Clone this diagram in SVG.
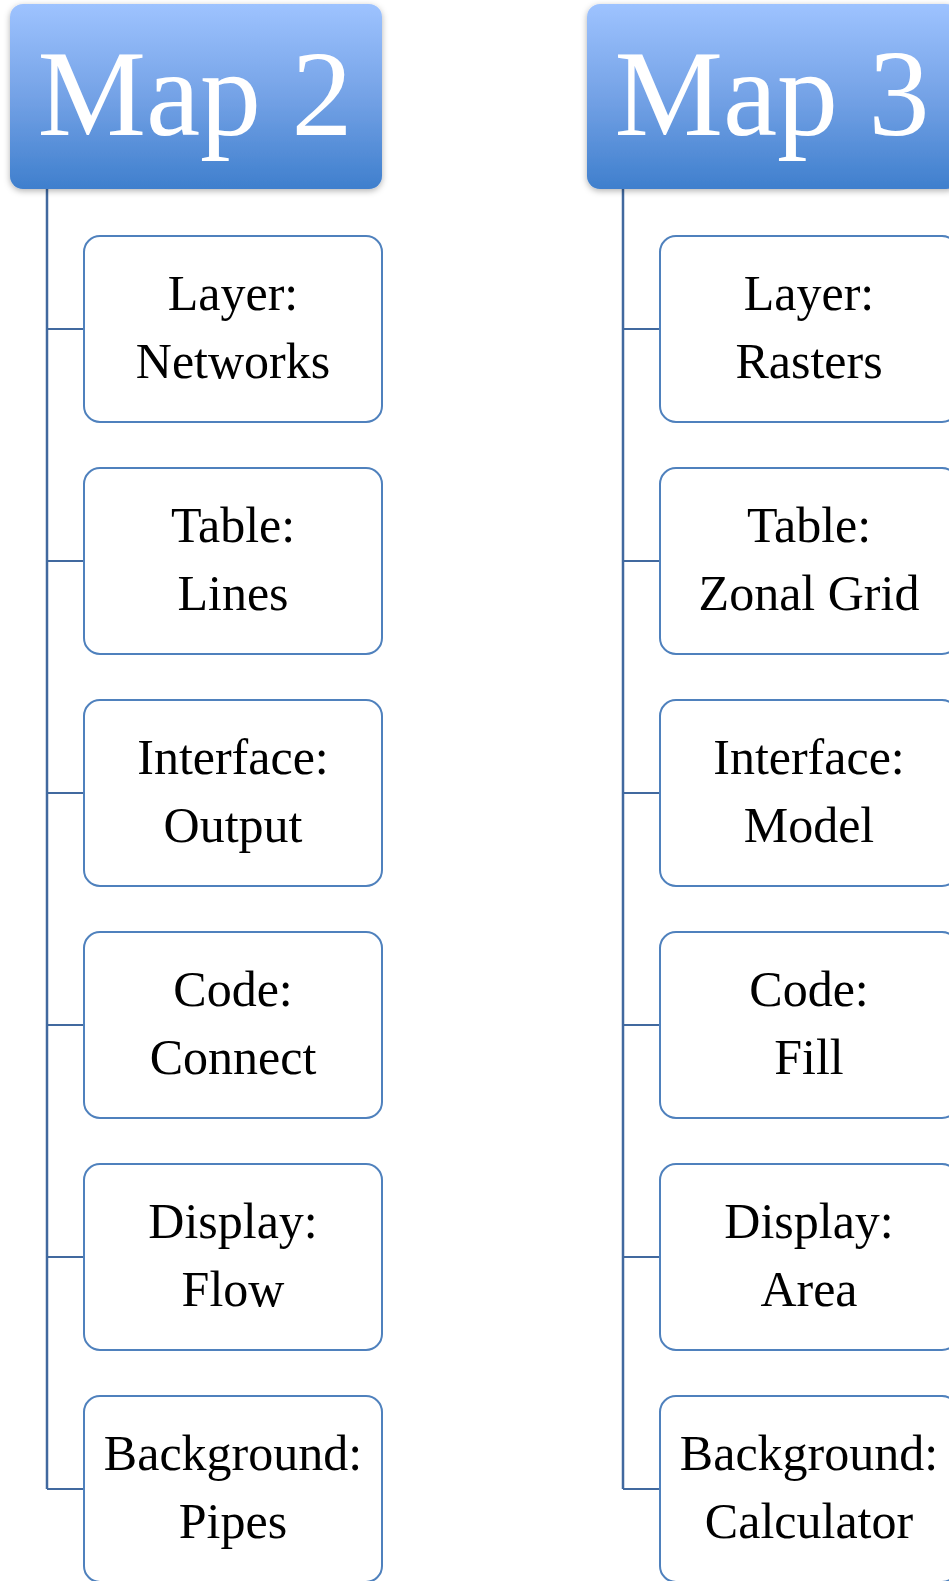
<svg xmlns="http://www.w3.org/2000/svg" width="949" height="1581" viewBox="0 0 949 1581">
  <defs>
    <linearGradient id="hdrFill" x1="0" y1="0" x2="0" y2="1">
      <stop offset="0" stop-color="#9ec3ff"/>
      <stop offset="0.5" stop-color="#74a2e6"/>
      <stop offset="1" stop-color="#3f7fcd"/>
    </linearGradient>
    <filter id="shadow" x="-10%" y="-10%" width="120%" height="130%">
      <feDropShadow dx="0" dy="2" stdDeviation="3" flood-color="#000" flood-opacity="0.3"/>
    </filter>
  </defs>
  <style>
    .hdr { fill: url(#hdrFill); filter: url(#shadow); }
    .hdr-text { font-family: "Liberation Serif", "DejaVu Serif", serif; font-size: 122px; fill: #ffffff; text-anchor: middle; }
    .box { fill: #ffffff; stroke: #4f81bd; stroke-width: 2; }
    .box-text { font-family: "Liberation Serif", "DejaVu Serif", serif; font-size: 50px; fill: #000000; text-anchor: middle; }
    .link { fill: none; stroke: #41699f; stroke-width: 2; }
    .spine { fill: none; stroke: #41699f; stroke-width: 2.5; }
  </style>
  <rect width="949" height="1581" fill="#ffffff"/>

  <!-- connectors: vertical spine per map, horizontal stubs to each child -->
  <g id="connectors">
    <path class="spine" d="M47 189 V1489"/>
    <path class="link" d="M47 329 H84 M47 561 H84 M47 793 H84 M47 1025 H84 M47 1257 H84 M47 1489 H84"/>
    <path class="spine" d="M623 189 V1489"/>
    <path class="link" d="M623 329 H660 M623 561 H660 M623 793 H660 M623 1025 H660 M623 1257 H660 M623 1489 H660"/>
  </g>

  <!-- Map 2 -->
  <g id="map2">
    <rect class="hdr" x="10" y="4" width="372" height="185" rx="13"/>
    <text class="hdr-text" x="195" y="135">Map 2</text>
  </g>
  <g id="map2-layer">
    <rect class="box" x="84" y="236" width="298" height="186" rx="16"/>
    <text class="box-text" x="233" y="310">Layer:</text>
    <text class="box-text" x="233" y="378">Networks</text>
  </g>
  <g id="map2-table">
    <rect class="box" x="84" y="468" width="298" height="186" rx="16"/>
    <text class="box-text" x="233" y="542">Table:</text>
    <text class="box-text" x="233" y="610">Lines</text>
  </g>
  <g id="map2-interface">
    <rect class="box" x="84" y="700" width="298" height="186" rx="16"/>
    <text class="box-text" x="233" y="774">Interface:</text>
    <text class="box-text" x="233" y="842">Output</text>
  </g>
  <g id="map2-code">
    <rect class="box" x="84" y="932" width="298" height="186" rx="16"/>
    <text class="box-text" x="233" y="1006">Code:</text>
    <text class="box-text" x="233" y="1074">Connect</text>
  </g>
  <g id="map2-display">
    <rect class="box" x="84" y="1164" width="298" height="186" rx="16"/>
    <text class="box-text" x="233" y="1238">Display:</text>
    <text class="box-text" x="233" y="1306">Flow</text>
  </g>
  <g id="map2-background">
    <rect class="box" x="84" y="1396" width="298" height="186" rx="16"/>
    <text class="box-text" x="233" y="1470">Background:</text>
    <text class="box-text" x="233" y="1538">Pipes</text>
  </g>

  <!-- Map 3 -->
  <g id="map3">
    <rect class="hdr" x="587" y="4" width="372" height="185" rx="13"/>
    <text class="hdr-text" x="772" y="135">Map 3</text>
  </g>
  <g id="map3-layer">
    <rect class="box" x="660" y="236" width="298" height="186" rx="16"/>
    <text class="box-text" x="809" y="310">Layer:</text>
    <text class="box-text" x="809" y="378">Rasters</text>
  </g>
  <g id="map3-table">
    <rect class="box" x="660" y="468" width="298" height="186" rx="16"/>
    <text class="box-text" x="809" y="542">Table:</text>
    <text class="box-text" x="809" y="610">Zonal Grid</text>
  </g>
  <g id="map3-interface">
    <rect class="box" x="660" y="700" width="298" height="186" rx="16"/>
    <text class="box-text" x="809" y="774">Interface:</text>
    <text class="box-text" x="809" y="842">Model</text>
  </g>
  <g id="map3-code">
    <rect class="box" x="660" y="932" width="298" height="186" rx="16"/>
    <text class="box-text" x="809" y="1006">Code:</text>
    <text class="box-text" x="809" y="1074">Fill</text>
  </g>
  <g id="map3-display">
    <rect class="box" x="660" y="1164" width="298" height="186" rx="16"/>
    <text class="box-text" x="809" y="1238">Display:</text>
    <text class="box-text" x="809" y="1306">Area</text>
  </g>
  <g id="map3-background">
    <rect class="box" x="660" y="1396" width="298" height="186" rx="16"/>
    <text class="box-text" x="809" y="1470">Background:</text>
    <text class="box-text" x="809" y="1538">Calculator</text>
  </g>
</svg>
